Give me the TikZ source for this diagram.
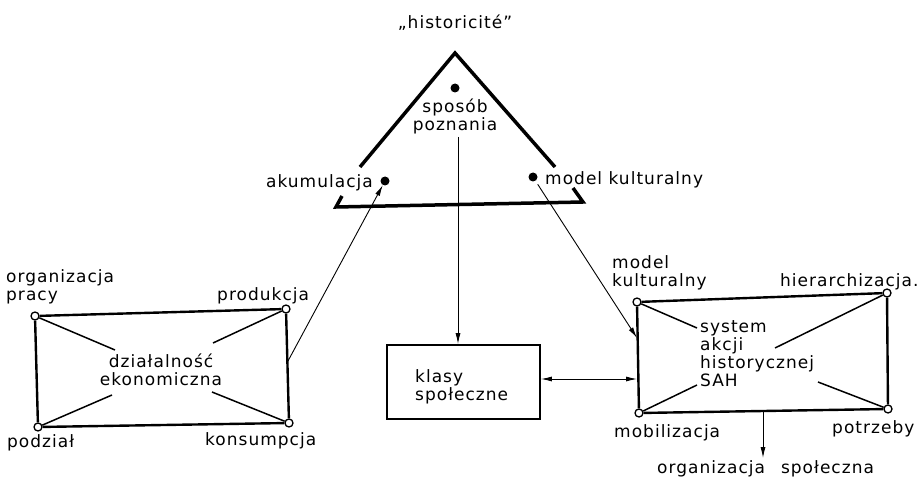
\documentclass[tikz,border=0pt]{standalone}
\usepackage{fontspec}
\setmainfont[LetterSpace=6]{DejaVu Sans}
\usetikzlibrary{arrows.meta}

\begin{document}
\begin{tikzpicture}%
[x=1pt, y=-1pt,%
dots/.style={fill, inner sep=0pt, minimum size=9pt, shape=circle},%
ring/.style={draw, fill=white, line width=1.3pt, inner sep=0pt, minimum size=8pt, shape=circle},%
frame/.style={line width=2.4pt},%
spoke/.style={line width=1.5pt},%
link/.style={line width=0.9pt, -{Latex[length=11pt,width=5pt]}},%
txt/.style={font=\fontsize{17}{18}\selectfont, inner sep=0pt, anchor=base west}]
\useasboundingbox (0,0) rectangle (921,481);

% triangle of historicite
\draw[line width=3.5pt] (360,167) -- (455,53) -- (555,167);
\draw[line width=3.5pt] (342,196) -- (336,207) -- (583,202) -- (573,188);
\node[txt, anchor=base] (hist) at (455,29) {„historicité"};
\node[dots] (sp) at (455,88) {};
\node[dots] (ak) at (385,181) {};
\node[dots] (mk) at (533,177) {};
\node[txt, anchor=base, align=center] (sptxt) at (455,131) {sposób\\poznania};
\node[txt, anchor=base east] (aktxt) at (373,188) {akumulacja};
\node[txt] (mktxt) at (545,185) {model kulturalny};
\coordinate (spend) at (458,137);

% dzialalnosc ekonomiczna
\node[ring] (op) at (35,316) {};
\node[ring] (pr) at (286,309) {};
\node[ring] (po) at (38,427) {};
\node[ring] (ko) at (289,423) {};
\draw[frame] (op) -- (pr) -- (ko) -- (po) -- (op);
\node[txt, align=center, anchor=base] (de) at (161,385) {działalność\\ekonomiczna};
\draw[spoke] (op) -- (115,350);
\draw[spoke] (po) -- (112,395);
\draw[spoke] (pr) -- (213,343);
\draw[spoke] (ko) -- (212,392);
\node[txt, align=left] (optxt) at (6,300) {organizacja\\pracy};
\node[txt] (prtxt) at (217,300) {produkcja};
\node[txt] (potxt) at (7,447) {podział};
\node[txt] (kotxt) at (205,445) {konsumpcja};
\coordinate (deout) at (288,361);

% klasy spoleczne
\node[draw, line width=1.8pt, minimum width=153pt, minimum height=74pt, inner sep=0pt] (kl) at (463.5,382) {};
\node[txt, align=left] (kltxt) at (415,400) {klasy\\społeczne};

% system akcji historycznej
\node[ring] (mo1) at (637,302) {};
\node[ring] (hi) at (887,293) {};
\node[ring] (mb) at (639,413) {};
\node[ring] (pt) at (888,409) {};
\draw[frame] (mo1) -- (hi) -- (pt) -- (mb) -- (mo1);
\node[txt, align=left] (sah) at (700,386) {system\\akcji\\historycznej\\SAH};
\draw[spoke] (mo1) -- (697,328);
\draw[spoke] (mb) -- (697,385);
\draw[spoke] (hi) -- (775,348);
\draw[spoke] (pt) -- (818,382);
\node[txt, align=left] (mo1txt) at (612,287) {model\\kulturalny};
\node[txt] (hitxt) at (780,287) {hierarchizacja.};
\node[txt] (mbtxt) at (614,437) {mobilizacja};
\node[txt] (pttxt) at (832,433) {potrzeby};
\node[txt] (ortxt) at (657,473) {organizacja\hspace{16pt}społeczna};
\coordinate (sahin) at (637,338);
\coordinate (sahkl) at (637,379);
\coordinate (sahtop) at (763,412);
\coordinate (sahout) at (763,458);

% connectors
\draw[link] (deout) -- (ak);
\draw[link] (spend) -- (kl.north -| spend);
\draw[link, shorten <=4pt] (mk) -- (sahin);
\draw[line width=0.9pt, {Latex[length=11pt,width=5pt]}-{Latex[length=11pt,width=5pt]}] (kl.east |- sahkl) -- (sahkl);
\draw[link] (sahtop) -- (sahout);
\end{tikzpicture}
\end{document}
